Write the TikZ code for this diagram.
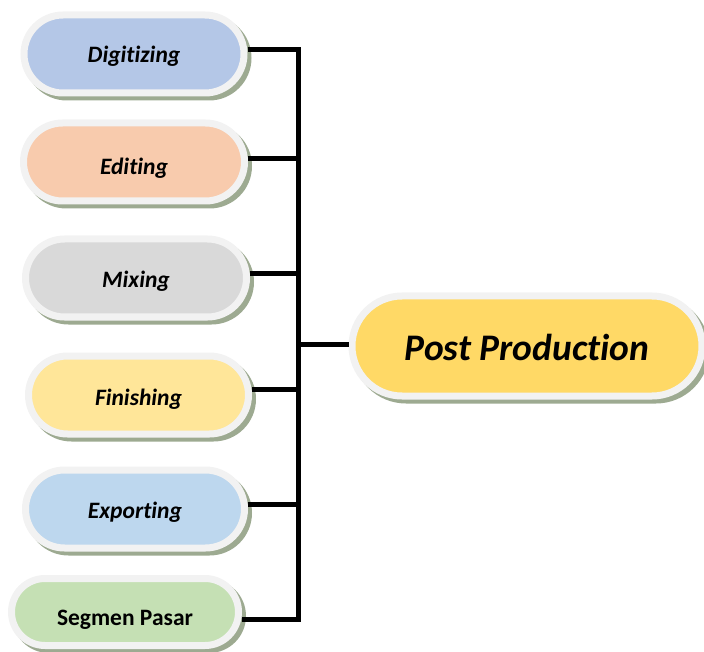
\documentclass[tikz,border=0pt]{standalone}
\usepackage{fontspec}
\setmainfont{Carlito}[Ligatures={NoCommon,NoRare}]
\usetikzlibrary{shapes.misc,shadows}
\definecolor{ring}{HTML}{F2F2F2}
\definecolor{shade}{HTML}{9DAA91}
\definecolor{cdig}{HTML}{B4C7E7}
\definecolor{cedit}{HTML}{F8CBAD}
\definecolor{cmix}{HTML}{D9D9D9}
\definecolor{cfin}{HTML}{FFE699}
\definecolor{cexp}{HTML}{BDD7EE}
\definecolor{cseg}{HTML}{C5E0B4}
\definecolor{cpost}{HTML}{FFD966}
\begin{document}
\begin{tikzpicture}[x=1pt,y=-1pt,
  pill/.style={rounded rectangle, draw=ring, line width=7pt, inner sep=0pt,
    text depth=0pt, minimum width=220pt, minimum height=78pt,
    font=\bfseries\itshape\fontsize{23.5}{23.5}\selectfont,
    drop shadow={shadow xshift=4pt, shadow yshift=-4pt, fill=shade, draw=shade, line width=7pt, opacity=1}},
  conn/.style={line width=5pt, draw=black}]
\useasboundingbox (0,0) rectangle (704,652);
\coordinate (trunk) at (298,0);
\node[pill, fill=cdig, text height=18pt] (dig) at (134,54) {Digitizing};
\node[pill, fill=cedit, text height=26pt, minimum width=221pt] (edit) at (134,162) {Editing};
\node[pill, fill=cmix, text height=20pt, minimum width=221pt] (mix) at (136,278) {Mixing};
\node[pill, fill=cfin, text height=20pt] (fin) at (138.5,395) {Finishing};
\node[pill, fill=cexp, text height=18pt, minimum width=219pt] (exp) at (135,509) {Exporting};
\node[pill, fill=cseg, text height=26pt, minimum width=227pt, minimum height=67pt,
  font=\bfseries\fontsize{23.5}{23.5}\selectfont] (seg) at (125,612) {Segmen Pasar};
\node[pill, fill=cpost, text height=28pt, minimum width=350pt, minimum height=100pt,
  font=\bfseries\itshape\fontsize{37.5}{37.5}\selectfont] (post) at (527,346) {Post Production};
\draw[conn] ([yshift=4pt]dig.east) -- ([yshift=4pt]dig.east -| trunk)
  -- ([yshift=-7pt]seg.east -| trunk) -- ([yshift=-7pt]seg.east);
\draw[conn] ([yshift=3pt]edit.east) -- ([yshift=3pt]edit.east -| trunk);
\draw[conn] ([yshift=4pt]mix.east) -- ([yshift=4pt]mix.east -| trunk);
\draw[conn] ([yshift=6pt]fin.east) -- ([yshift=6pt]fin.east -| trunk);
\draw[conn] ([yshift=5pt]exp.east) -- ([yshift=5pt]exp.east -| trunk);
\draw[conn] ([yshift=2pt]post.west) -- ([yshift=2pt]post.west -| trunk);
\end{tikzpicture}
\end{document}
